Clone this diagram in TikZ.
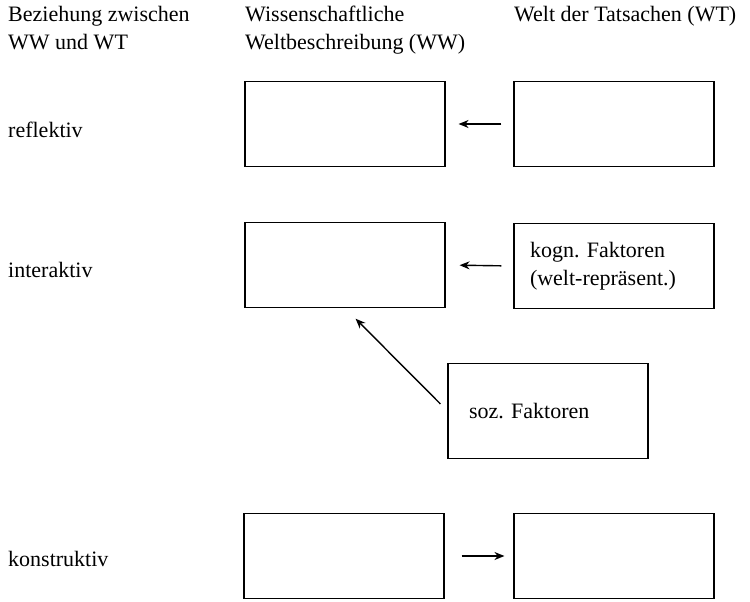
\documentclass[tikz,border=0pt]{standalone}
\usepackage{fontspec}
\setmainfont{Liberation Serif}
\usetikzlibrary{arrows.meta}
\frenchspacing
\tikzset{
  box/.style={draw, line width=1.1pt, minimum width=200pt, minimum height=85pt, inner sep=0pt},
  lbl/.style={anchor=base west, inner sep=0pt},
  hdr/.style={anchor=north west, inner sep=0pt, align=left},
  arr/.style={line width=1.4pt, -{Stealth[length=10pt,width=8pt]}},
}
\begin{document}
\begin{tikzpicture}[x=1pt,y=-1pt,font=\fontsize{22}{28}\selectfont]
\useasboundingbox (0,0) rectangle (750,602);
% headers
\node[hdr] (h1) at (8,6) {Beziehung zwischen\\WW und WT};
\node[hdr] (h2) at (245,6) {Wissenschaftliche\\Weltbeschreibung (WW)};
\node[hdr] (h3) at (514,6) {Welt der Tatsachen (WT)};
% row labels
\node[lbl] (r1) at (8,137) {reflektiv};
\node[lbl] (r2) at (8,277) {interaktiv};
\node[lbl] (r3) at (8,566) {konstruktiv};
% boxes
\node[box] (w1) at (345,124) {};
\node[box] (t1) at (614,124) {};
\node[box] (w2) at (345,265) {};
\node[box, align=left, text width=168pt] (t2) at (614,266) {kogn. Faktoren\\(welt-repräsent.)};
\node[box, minimum height=95pt, align=left, text width=158pt] (s) at (548,411) {soz. Faktoren};
\node[box] (w3) at (344,556) {};
\node[box] (t3) at (614,556) {};
% arrows
\draw[arr, shorten <=12pt, shorten >=13pt] (t1.west) -- (w1.east);
\draw[arr, shorten <=12pt, shorten >=14pt] (t2.west) -- (w2.east);
\draw[arr, shorten <=10pt, shorten >=15pt] (s.west) -- (w2.south);
\draw[arr, shorten <=17pt, shorten >=9pt] (w3.east) -- (t3.west);
\end{tikzpicture}
\end{document}
